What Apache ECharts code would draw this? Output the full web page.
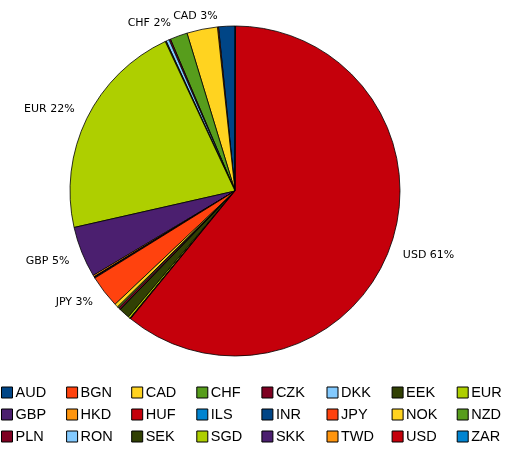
<!DOCTYPE html>
<html>
<head>
<meta charset="utf-8">
<script src="https://cdn.jsdelivr.net/npm/echarts@6/dist/echarts.min.js"></script>
<style>
    html, body { margin: 0; padding: 0; background: #fff; }
    #chart { width: 519px; height: 450px; }
</style>
</head>
<body>
<div id="chart"></div>
<script>
// ──── data ────
const currencies = ['AUD', 'BGN', 'CAD', 'CHF', 'CZK', 'DKK', 'EEK', 'EUR',
                    'GBP', 'HKD', 'HUF', 'ILS', 'INR', 'JPY', 'NOK', 'NZD',
                    'PLN', 'RON', 'SEK', 'SGD', 'SKK', 'TWD', 'USD', 'ZAR'];
const shares = [1.6, 0.1, 3.0, 1.7, 0.15, 0.3, 0.1, 21.6,
                5.0, 0.15, 0.05, 0.03, 0.07, 3.2, 0.35, 0.15,
                0.2, 0.02, 1.05, 0.2, 0.03, 0.05, 60.85, 0.05];
const labelled = ['CAD', 'CHF', 'EUR', 'GBP', 'JPY', 'USD'];

// LibreOffice default palette
const palette = ['#004586', '#ff420e', '#ffd320', '#579d1c', '#7e0021', '#83caff',
                 '#314004', '#aecf00', '#4b1f6f', '#ff950e', '#c5000b', '#0084d1'];

// ──── layout ────
const CX = 235, CY = 191, R = 165;
const COLS = 8;
const COL_W = 65.1, LEGEND_TOP = 385;

// label sits with its nearest corner on the radial line
function placeLabel(p) {
    const r = p.labelRect;
    const onLeft = r.x + r.width / 2 < CX;
    const ax = onLeft ? r.x + r.width : r.x;
    const ay = r.y + r.height / 2;
    const elev = Math.atan2(Math.abs(ay - CY), Math.abs(ax - CX)) * 180 / Math.PI;
    let align = onLeft ? 'right' : 'left';
    if (elev > 72) align = 'center';
    let verticalAlign = 'middle';
    if (elev > 15) verticalAlign = ay < CY ? 'bottom' : 'top';
    return { x: ax, y: ay, align, verticalAlign };
}

const seriesData = currencies.map((name, i) => ({
    name,
    value: shares[i],
    itemStyle: { color: palette[i % palette.length] },
    label: { show: labelled.includes(name) },
}));

// one vertical legend per column
const legends = [];
for (let c = 0; c < COLS; c++) {
    legends.push({
        orient: 'vertical',
        left: 1 + c * COL_W,
        top: LEGEND_TOP,
        width: 64,
        height: 80,
        padding: 0,
        itemWidth: 11,
        itemHeight: 11,
        itemGap: 7,
        icon: 'rect',
        selectedMode: false,
        itemStyle: { borderColor: '#000', borderWidth: 1 },
        textStyle: { fontFamily: 'Liberation Sans', fontSize: 14.5, color: '#000', lineHeight: 11, padding: [0, 0, 0, -2] },
        data: currencies.filter((_, i) => i % COLS === c),
    });
}

const chart = echarts.init(document.getElementById('chart'), null, { renderer: 'canvas' });
chart.setOption({
    animation: false,
    backgroundColor: '#fff',
    legend: legends,
    series: [{
        type: 'pie',
        center: [CX, CY],
        radius: R,
        startAngle: 90,
        clockwise: false,
        avoidLabelOverlap: false,
        itemStyle: { borderColor: '#000', borderWidth: 0.8 },
        label: {
            position: 'outside',
            fontFamily: 'DejaVu Sans',
            fontSize: 11,
            color: '#000',
            formatter: p => `${p.name} ${Math.round(p.percent)}%`,
        },
        labelLine: { show: false, length: 8, length2: 0 },
        labelLayout: placeLabel,
        emphasis: { disabled: true },
        data: seriesData,
    }],
});
</script>
</body>
</html>
